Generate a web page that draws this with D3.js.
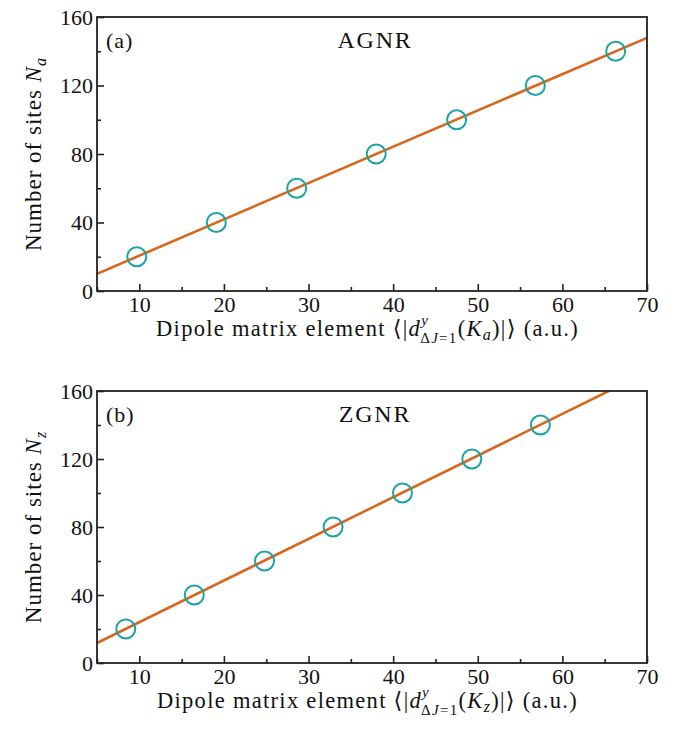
<!DOCTYPE html>
<html>
<head>
<meta charset="utf-8">
<script src="https://cdn.jsdelivr.net/npm/d3@7"></script>
<style>
  html, body { margin: 0; padding: 0; background: #fff; }
  svg text { font-family: "Liberation Serif", "DejaVu Serif", serif; fill: #111; }
</style>
</head>
<body>
<svg id="chart" width="677" height="740" font-family="Liberation Serif, DejaVu Serif, serif"></svg>
<script>
// Number of sites per ribbon width
const sitesA = [20, 40, 60, 80, 100, 120, 140];
const sitesZ = [20, 40, 60, 80, 100, 120, 140];
// Dipole matrix element values (a.u.)
const dipoleA = [9.7, 19.1, 28.6, 38.0, 47.5, 56.8, 66.3];
const dipoleZ = [8.4, 16.5, 24.8, 32.9, 41.1, 49.3, 57.4];
// Linear fit N = slope * d + intercept
const fitA = { slope: 2.12, intercept: -0.56 };
const fitZ = { slope: 2.45, intercept: -0.47 };

const xTicks = [10, 20, 30, 40, 50, 60, 70];
const xMinorTicks = [5, 15, 25, 35, 45, 55, 65];
const yTicks = [0, 40, 80, 120, 160];
const yMinorTicks = [20, 60, 100, 140];

const panels = [
  { tag: "(a)", name: "AGNR", sub: "a", x: dipoleA, y: sitesA, fit: fitA, top: 17, bottom: 291, id: "a" },
  { tag: "(b)", name: "ZGNR", sub: "z", x: dipoleZ, y: sitesZ, fit: fitZ, top: 391, bottom: 663, id: "b" }
];

const svg = d3.select("#chart");
const left = 97, right = 647;
const lineColor = "#d8661e", markColor = "#1fa2a2";
const serif = '"Liberation Serif", "DejaVu Serif", serif';

panels.forEach(p => {
  const x = d3.scaleLinear().domain([5, 70]).range([left, right]);
  const y = d3.scaleLinear().domain([0, 160]).range([p.bottom, p.top]);
  const g = svg.append("g");

  g.append("clipPath").attr("id", "clip-" + p.id)
    .append("rect").attr("x", left).attr("y", p.top)
    .attr("width", right - left).attr("height", p.bottom - p.top);

  // fitted line
  const xs = x.domain();
  g.append("line")
    .attr("clip-path", "url(#clip-" + p.id + ")")
    .attr("x1", x(xs[0])).attr("y1", y(p.fit.slope * xs[0] + p.fit.intercept))
    .attr("x2", x(xs[1])).attr("y2", y(p.fit.slope * xs[1] + p.fit.intercept))
    .attr("stroke", lineColor).attr("stroke-width", 2.6);

  // data markers
  g.selectAll("circle.pt").data(p.x.map((d, i) => [d, p.y[i]])).join("circle")
    .attr("class", "pt")
    .attr("cx", d => x(d[0])).attr("cy", d => y(d[1])).attr("r", 9.5)
    .attr("fill", "none").attr("stroke", markColor).attr("stroke-width", 2);

  // frame
  g.append("rect").attr("x", left).attr("y", p.top)
    .attr("width", right - left).attr("height", p.bottom - p.top)
    .attr("fill", "none").attr("stroke", "#222").attr("stroke-width", 1.8);

  // axes with inward ticks
  const xAxis = g.append("g").attr("transform", `translate(0,${p.bottom})`)
    .call(d3.axisBottom(x).tickValues(xTicks).tickSizeInner(-7).tickSizeOuter(0).tickPadding(6));
  g.append("g").attr("transform", `translate(0,${p.bottom})`)
    .call(d3.axisBottom(x).tickValues(xMinorTicks).tickSizeInner(-4).tickSizeOuter(0).tickFormat(""));
  g.append("g").attr("transform", `translate(${left},0)`)
    .call(d3.axisLeft(y).tickValues(yTicks).tickSizeInner(-7).tickSizeOuter(0).tickPadding(4));
  g.append("g").attr("transform", `translate(${left},0)`)
    .call(d3.axisLeft(y).tickValues(yMinorTicks).tickSizeInner(-4).tickSizeOuter(0).tickFormat(""));

  g.selectAll("g").attr("font-family", serif);
  g.selectAll(".domain").remove();
  g.selectAll(".tick line").attr("stroke", "#222").attr("stroke-width", 1.6);
  g.selectAll(".tick text").attr("font-size", 22).attr("fill", "#111");
  xAxis.selectAll(".tick text").attr("dy", "0.68em");

  // panel tag and ribbon name
  g.append("text").attr("x", left + 9).attr("y", p.top + 31)
    .attr("font-size", 22).attr("letter-spacing", 1).text(p.tag);
  g.append("text").attr("x", 375).attr("y", p.top + 31)
    .attr("text-anchor", "middle").attr("font-size", 24).attr("letter-spacing", 1.8).text(p.name);

  // y-axis title
  const cy = (p.top + p.bottom) / 2;
  const yt = g.append("text").attr("transform", `translate(41,${cy}) rotate(-90)`)
    .attr("text-anchor", "middle").attr("font-size", 23).attr("letter-spacing", 1);
  yt.append("tspan").text("Number of sites ");
  yt.append("tspan").attr("font-style", "italic").text("N");
  yt.append("tspan").attr("font-style", "italic").attr("font-size", 16).attr("dy", 5).text(p.sub);

  // x-axis title with stacked super/subscript
  const xt = g.append("text").attr("y", p.bottom + 45).attr("font-size", 22.5).attr("letter-spacing", 1.3);
  xt.append("tspan").text("Dipole matrix element \u27E8|");
  xt.append("tspan").attr("font-style", "italic").text("d");
  const sup = xt.append("tspan").attr("font-style", "italic").attr("font-size", 15).attr("dy", -11).text("y");
  const supW = sup.node().getComputedTextLength();
  xt.append("tspan").attr("font-size", 15).attr("dy", 18).attr("dx", -supW - 1).text("\u0394");
  xt.append("tspan").attr("font-size", 15).attr("font-style", "italic").text("J");
  xt.append("tspan").attr("font-size", 15).text("=1");
  xt.append("tspan").attr("dy", -7).text("(");
  xt.append("tspan").attr("font-style", "italic").text("K");
  xt.append("tspan").attr("font-style", "italic").attr("font-size", 16).attr("dy", 4).text(p.sub);
  xt.append("tspan").attr("dy", -4).text(")|\u27E9 (a.u.)");
  const w = xt.node().getComputedTextLength();
  xt.attr("x", (left + right) / 2 - w / 2);
});
</script>
</body>
</html>
